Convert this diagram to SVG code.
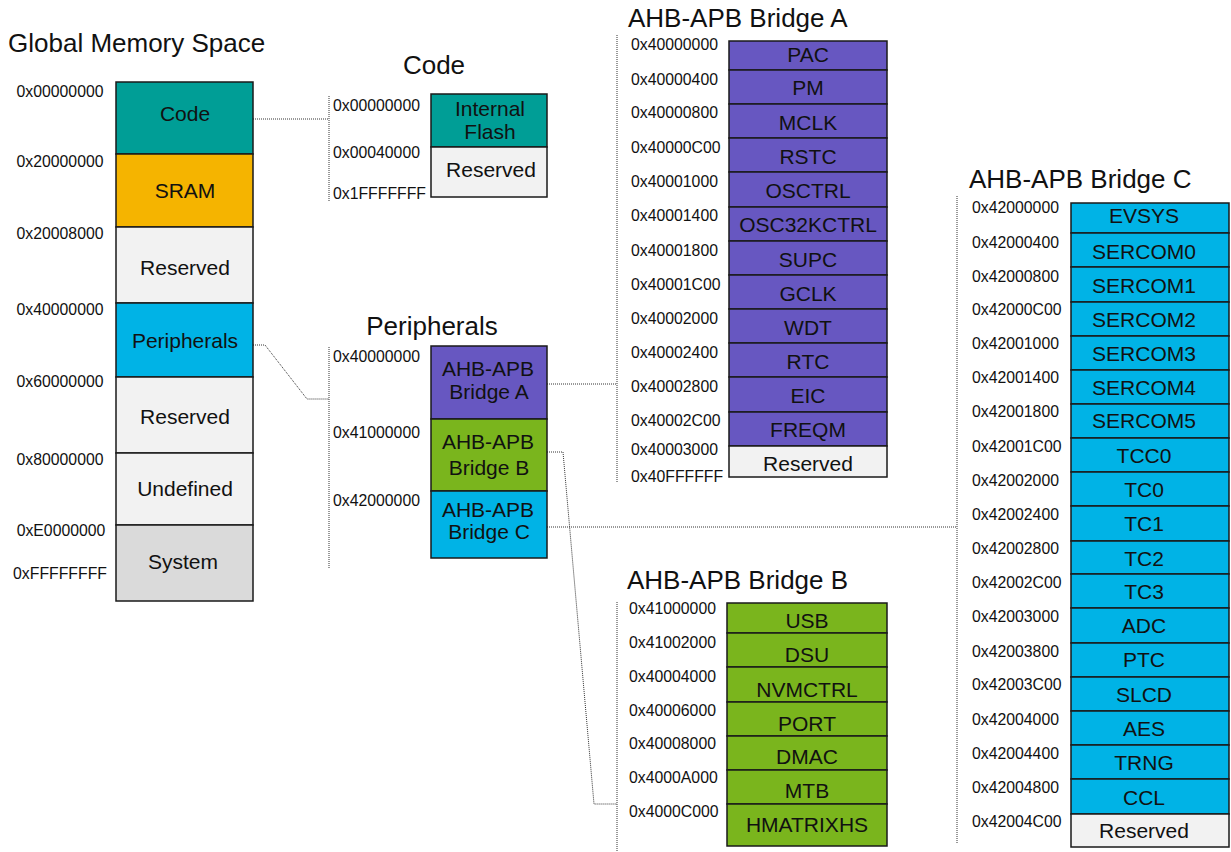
<svg xmlns="http://www.w3.org/2000/svg" width="1231" height="852" viewBox="0 0 1231 852">
<style>
text{font-family:"Liberation Sans",Arial,sans-serif;fill:#111}
.t{font-size:26px}
.a{font-size:15.8px}
.l{font-size:21px;text-anchor:middle}
rect{stroke:#1a1a1a;stroke-width:1.5}
.teal{fill:#009E96}.sram{fill:#F5B400}.cyan{fill:#00B3E6}.res{fill:#F2F2F2}.sys{fill:#DADADA}.pur{fill:#6757C1}.grn{fill:#7AB51D}
.con path,.con line{fill:none;stroke:#333;stroke-width:1;stroke-dasharray:1 1}
</style>
<rect width="1231" height="852" fill="#fff" style="stroke:none"/>

<g id="connectors" class="con">
<path d="M253 119 H329"/>
<line x1="329" y1="96" x2="329" y2="202"/>
<path d="M253 345 H265 L307 399 H329"/>
<line x1="329" y1="347" x2="329" y2="569"/>
<path d="M547 384 H617"/>
<line x1="617" y1="35" x2="617" y2="483"/>
<path d="M547 452 H563 L594 804 H617"/>
<line x1="617" y1="602" x2="617" y2="852"/>
<path d="M547 527 H957"/>
<line x1="957" y1="196" x2="957" y2="843"/>
</g>

<g id="global">
<text class="t" x="8" y="52">Global Memory Space</text>
<g id="g-code"><rect class="teal" x="116" y="82" width="137" height="72"/><text class="l" x="185" y="121">Code</text></g>
<g id="g-sram"><rect class="sram" x="116" y="154" width="137" height="73"/><text class="l" x="185" y="198">SRAM</text></g>
<g id="g-res1"><rect class="res" x="116" y="227" width="137" height="76"/><text class="l" x="185" y="275">Reserved</text></g>
<g id="g-per"><rect class="cyan" x="116" y="303" width="137" height="74"/><text class="l" x="185" y="348">Peripherals</text></g>
<g id="g-res2"><rect class="res" x="116" y="377" width="137" height="76"/><text class="l" x="185" y="424">Reserved</text></g>
<g id="g-undef"><rect class="res" x="116" y="453" width="137" height="72"/><text class="l" x="185" y="496">Undefined</text></g>
<g id="g-sys"><rect class="sys" x="116" y="525" width="137" height="76"/><text class="l" x="183" y="569">System</text></g>
<text class="a" x="60" y="97" text-anchor="middle">0x00000000</text>
<text class="a" x="60" y="167" text-anchor="middle">0x20000000</text>
<text class="a" x="60" y="239" text-anchor="middle">0x20008000</text>
<text class="a" x="60" y="315" text-anchor="middle">0x40000000</text>
<text class="a" x="60" y="387" text-anchor="middle">0x60000000</text>
<text class="a" x="60" y="465" text-anchor="middle">0x80000000</text>
<text class="a" x="61" y="536" text-anchor="middle">0xE0000000</text>
<text class="a" x="60" y="579" text-anchor="middle">0xFFFFFFFF</text>
</g>

<g id="code">
<text class="t" x="434" y="74" text-anchor="middle">Code</text>
<g id="c-flash"><rect class="teal" x="431" y="94" width="116" height="53"/><text class="l" x="490" y="116">Internal</text><text class="l" x="490" y="139">Flash</text></g>
<g id="c-resv"><rect class="res" x="431" y="147" width="116" height="50"/><text class="l" x="491" y="177">Reserved</text></g>
<text class="a" x="333" y="111">0x00000000</text>
<text class="a" x="333" y="158">0x00040000</text>
<text class="a" x="333" y="199">0x1FFFFFFF</text>
</g>

<g id="peripherals">
<text class="t" x="432" y="335" text-anchor="middle">Peripherals</text>
<g id="p-a"><rect class="pur" x="431" y="346" width="116" height="73"/><text class="l" x="488" y="376">AHB-APB</text><text class="l" x="489" y="399">Bridge A</text></g>
<g id="p-b"><rect class="grn" x="431" y="419" width="116" height="72"/><text class="l" x="488" y="449">AHB-APB</text><text class="l" x="489" y="475">Bridge B</text></g>
<g id="p-c"><rect class="cyan" x="431" y="491" width="116" height="67"/><text class="l" x="488" y="517">AHB-APB</text><text class="l" x="489" y="539">Bridge C</text></g>
<text class="a" x="333" y="362">0x40000000</text>
<text class="a" x="333" y="438">0x41000000</text>
<text class="a" x="333" y="506">0x42000000</text>
</g>

<g id="bridgeA">
<text class="t" x="628" y="27">AHB-APB Bridge A</text>
<g id="a-pac"><rect class="pur" x="729" y="41" width="158" height="29"/><text class="l" x="808" y="62">PAC</text></g>
<g id="a-pm"><rect class="pur" x="729" y="70" width="158" height="34"/><text class="l" x="808" y="95">PM</text></g>
<g id="a-mclk"><rect class="pur" x="729" y="104" width="158" height="34"/><text class="l" x="808" y="130">MCLK</text></g>
<g id="a-rstc"><rect class="pur" x="729" y="138" width="158" height="34"/><text class="l" x="808" y="164">RSTC</text></g>
<g id="a-osctrl"><rect class="pur" x="729" y="172" width="158" height="35"/><text class="l" x="808" y="198">OSCTRL</text></g>
<g id="a-osc32"><rect class="pur" x="729" y="207" width="158" height="34"/><text class="l" x="808" y="232">OSC32KCTRL</text></g>
<g id="a-supc"><rect class="pur" x="729" y="241" width="158" height="34"/><text class="l" x="808" y="267">SUPC</text></g>
<g id="a-gclk"><rect class="pur" x="729" y="275" width="158" height="34"/><text class="l" x="808" y="301">GCLK</text></g>
<g id="a-wdt"><rect class="pur" x="729" y="309" width="158" height="34"/><text class="l" x="808" y="335">WDT</text></g>
<g id="a-rtc"><rect class="pur" x="729" y="343" width="158" height="34"/><text class="l" x="808" y="369">RTC</text></g>
<g id="a-eic"><rect class="pur" x="729" y="377" width="158" height="35"/><text class="l" x="808" y="403">EIC</text></g>
<g id="a-freqm"><rect class="pur" x="729" y="412" width="158" height="34"/><text class="l" x="808" y="437">FREQM</text></g>
<g id="a-res"><rect class="res" x="729" y="446" width="158" height="31"/><text class="l" x="808" y="471">Reserved</text></g>
<text class="a" x="631" y="50">0x40000000</text>
<text class="a" x="631" y="85">0x40000400</text>
<text class="a" x="631" y="118">0x40000800</text>
<text class="a" x="631" y="153">0x40000C00</text>
<text class="a" x="631" y="187">0x40001000</text>
<text class="a" x="631" y="221">0x40001400</text>
<text class="a" x="631" y="256">0x40001800</text>
<text class="a" x="631" y="290">0x40001C00</text>
<text class="a" x="631" y="324">0x40002000</text>
<text class="a" x="631" y="358">0x40002400</text>
<text class="a" x="631" y="392">0x40002800</text>
<text class="a" x="631" y="426">0x40002C00</text>
<text class="a" x="631" y="455">0x40003000</text>
<text class="a" x="631" y="482">0x40FFFFFF</text>
</g>

<g id="bridgeB">
<text class="t" x="627" y="589">AHB-APB Bridge B</text>
<g id="b-usb"><rect class="grn" x="727" y="603" width="160" height="30"/><text class="l" x="807" y="628">USB</text></g>
<g id="b-dsu"><rect class="grn" x="727" y="633" width="160" height="34"/><text class="l" x="807" y="662">DSU</text></g>
<g id="b-nvm"><rect class="grn" x="727" y="667" width="160" height="35"/><text class="l" x="807" y="697">NVMCTRL</text></g>
<g id="b-port"><rect class="grn" x="727" y="702" width="160" height="34"/><text class="l" x="807" y="731">PORT</text></g>
<g id="b-dmac"><rect class="grn" x="727" y="736" width="160" height="34"/><text class="l" x="807" y="764">DMAC</text></g>
<g id="b-mtb"><rect class="grn" x="727" y="770" width="160" height="34"/><text class="l" x="807" y="798">MTB</text></g>
<g id="b-hmx"><rect class="grn" x="727" y="804" width="160" height="42"/><text class="l" x="807" y="832">HMATRIXHS</text></g>
<text class="a" x="629" y="614">0x41000000</text>
<text class="a" x="629" y="648">0x41002000</text>
<text class="a" x="629" y="682">0x40004000</text>
<text class="a" x="629" y="716">0x40006000</text>
<text class="a" x="629" y="749">0x40008000</text>
<text class="a" x="629" y="783">0x4000A000</text>
<text class="a" x="629" y="817">0x4000C000</text>
</g>

<g id="bridgeC">
<text class="t" x="969" y="188">AHB-APB Bridge C</text>
<g id="c-evsys"><rect class="cyan" x="1071" y="203" width="158" height="30"/><text class="l" x="1144" y="223">EVSYS</text></g>
<g id="c-s0"><rect class="cyan" x="1071" y="233" width="158" height="34"/><text class="l" x="1144" y="259">SERCOM0</text></g>
<g id="c-s1"><rect class="cyan" x="1071" y="267" width="158" height="35"/><text class="l" x="1144" y="293">SERCOM1</text></g>
<g id="c-s2"><rect class="cyan" x="1071" y="302" width="158" height="34"/><text class="l" x="1144" y="327">SERCOM2</text></g>
<g id="c-s3"><rect class="cyan" x="1071" y="336" width="158" height="34"/><text class="l" x="1144" y="361">SERCOM3</text></g>
<g id="c-s4"><rect class="cyan" x="1071" y="370" width="158" height="34"/><text class="l" x="1144" y="395">SERCOM4</text></g>
<g id="c-s5"><rect class="cyan" x="1071" y="404" width="158" height="34"/><text class="l" x="1144" y="428">SERCOM5</text></g>
<g id="c-tcc0"><rect class="cyan" x="1071" y="438" width="158" height="34"/><text class="l" x="1144" y="463">TCC0</text></g>
<g id="c-tc0"><rect class="cyan" x="1071" y="472" width="158" height="34"/><text class="l" x="1144" y="497">TC0</text></g>
<g id="c-tc1"><rect class="cyan" x="1071" y="506" width="158" height="35"/><text class="l" x="1144" y="531">TC1</text></g>
<g id="c-tc2"><rect class="cyan" x="1071" y="541" width="158" height="33"/><text class="l" x="1144" y="566">TC2</text></g>
<g id="c-tc3"><rect class="cyan" x="1071" y="574" width="158" height="34"/><text class="l" x="1144" y="599">TC3</text></g>
<g id="c-adc"><rect class="cyan" x="1071" y="608" width="158" height="35"/><text class="l" x="1144" y="633">ADC</text></g>
<g id="c-ptc"><rect class="cyan" x="1071" y="643" width="158" height="34"/><text class="l" x="1144" y="667">PTC</text></g>
<g id="c-slcd"><rect class="cyan" x="1071" y="677" width="158" height="34"/><text class="l" x="1144" y="702">SLCD</text></g>
<g id="c-aes"><rect class="cyan" x="1071" y="711" width="158" height="34"/><text class="l" x="1144" y="736">AES</text></g>
<g id="c-trng"><rect class="cyan" x="1071" y="745" width="158" height="34"/><text class="l" x="1144" y="770">TRNG</text></g>
<g id="c-ccl"><rect class="cyan" x="1071" y="779" width="158" height="35"/><text class="l" x="1144" y="805">CCL</text></g>
<g id="c-res"><rect class="res" x="1071" y="814" width="158" height="33"/><text class="l" x="1144" y="838">Reserved</text></g>
<text class="a" x="972" y="213">0x42000000</text>
<text class="a" x="972" y="248">0x42000400</text>
<text class="a" x="972" y="282">0x42000800</text>
<text class="a" x="972" y="315">0x42000C00</text>
<text class="a" x="972" y="349">0x42001000</text>
<text class="a" x="972" y="383">0x42001400</text>
<text class="a" x="972" y="417">0x42001800</text>
<text class="a" x="972" y="452">0x42001C00</text>
<text class="a" x="972" y="486">0x42002000</text>
<text class="a" x="972" y="520">0x42002400</text>
<text class="a" x="972" y="554">0x42002800</text>
<text class="a" x="972" y="588">0x42002C00</text>
<text class="a" x="972" y="622">0x42003000</text>
<text class="a" x="972" y="657">0x42003800</text>
<text class="a" x="972" y="690">0x42003C00</text>
<text class="a" x="972" y="725">0x42004000</text>
<text class="a" x="972" y="759">0x42004400</text>
<text class="a" x="972" y="793">0x42004800</text>
<text class="a" x="972" y="827">0x42004C00</text>
</g>
</svg>
